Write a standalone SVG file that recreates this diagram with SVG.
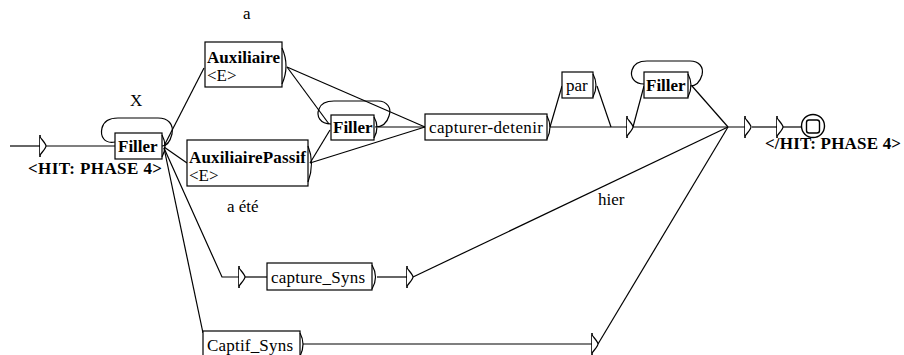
<svg xmlns="http://www.w3.org/2000/svg" xmlns:xlink="http://www.w3.org/1999/xlink" width="904" height="355" viewBox="0 0 904 355">
<style>
.bg{fill:#fff}
.box{fill:#fff;stroke:#000;stroke-width:1.2}
.ln{fill:none;stroke:#000;stroke-width:1.2}
.t{font-family:'Liberation Serif','DejaVu Serif',serif;font-size:17px;fill:#000}
.b{font-weight:bold}
</style>
<defs>
<g id="arr">
<path d="M0,-11 L0,11" stroke="#000" stroke-width="1.6" fill="none"/>
<path d="M0,-9 C3,-5 6,-2 6,0 C6,2 3,5 0,9" stroke="#000" stroke-width="1.2" fill="#fff"/>
</g>
</defs>
<rect class="bg" x="0" y="0" width="904" height="355"/>
<g id="connectors">
<path class="ln" d="M10,146 L40,146"/>
<path class="ln" d="M46,146 L115,146"/>
<path class="ln" d="M164,146 L204,68"/>
<path class="ln" d="M164,147 L187,163"/>
<path class="ln" d="M164,148 L222,277 L239,277"/>
<path class="ln" d="M164,148 L203,333"/>
<path class="ln" d="M287,67 L329,124"/>
<path class="ln" d="M287,67 L425,127"/>
<path class="ln" d="M310,163 L330,130"/>
<path class="ln" d="M310,163 L425,127"/>
<path class="ln" d="M378,127 L425,127"/>
<path class="ln" d="M550,127 L562,86"/>
<path class="ln" d="M550,127 L627,127"/>
<path class="ln" d="M597,86 L611,127"/>
<path class="ln" d="M633,127 L644,86"/>
<path class="ln" d="M633,127 L745,127"/>
<path class="ln" d="M692,86 L728,127"/>
<path class="ln" d="M752,127 L777,127"/>
<path class="ln" d="M783,127 L801,127"/>
<path class="ln" d="M245,277 L267,277"/>
<path class="ln" d="M377,277 L407,277"/>
<path class="ln" d="M413,277 L728,127"/>
<path class="ln" d="M303,344 L592,344"/>
<path class="ln" d="M598,344 L728,127"/>
</g>
<g id="start">
<use xlink:href="#arr" href="#arr" x="40" y="146"/>
<text class="t b" x="28" y="174" textLength="134">&lt;HIT: PHASE 4&gt;</text>
</g>
<g id="filler1">
<path class="ln" d="M115,142 C104,144 100,136 102,128 C104,120 110,118 118,118 L158,118 C168,118 174,124 172,134 C170,142 166,146 162,146"/>
<rect class="box" x="115" y="133" width="47" height="26"/>
<path class="ln" d="M162,135 Q168,146 162,157"/>
<text class="t b" x="118" y="152">Filler</text>
<text class="t" x="130" y="106">X</text>
</g>
<g id="auxiliaire">
<rect class="box" x="205" y="42" width="77" height="45"/>
<path class="ln" d="M282,48 Q290,66 282,84"/>
<text class="t b" x="207" y="63" textLength="73">Auxiliaire</text>
<text class="t" x="207" y="81">&lt;E&gt;</text>
<text class="t" x="243" y="19">a</text>
</g>
<g id="auxpassif">
<rect class="box" x="187" y="140" width="121" height="46"/>
<path class="ln" d="M308,146 Q315,163 308,182"/>
<text class="t b" x="189" y="163" textLength="117">AuxiliairePassif</text>
<text class="t" x="189" y="181">&lt;E&gt;</text>
<text class="t" x="227" y="212">a été</text>
</g>
<g id="filler2">
<path class="ln" d="M331,124 C320,124 316,116 319,109 C321,103 327,101 334,101 L378,101 C387,101 392,108 389,116 C387,123 382,127 375,127"/>
<rect class="box" x="331" y="115" width="43" height="25"/>
<path class="ln" d="M374,117 Q380,127 374,138"/>
<text class="t b" x="333" y="133">Filler</text>
</g>
<g id="capturer">
<rect class="box" x="425" y="114" width="122" height="26"/>
<path class="ln" d="M547,116 Q553,127 547,139"/>
<text class="t" x="429" y="133" textLength="114">capturer-detenir</text>
</g>
<g id="par">
<rect class="box" x="562" y="72" width="31" height="26"/>
<path class="ln" d="M593,74 Q599,85 593,97"/>
<text class="t" x="566" y="91">par</text>
</g>
<g id="mid-arrow">
<use xlink:href="#arr" href="#arr" x="627" y="127"/>
</g>
<g id="filler3">
<path class="ln" d="M644,84 C634,84 630,77 632,70 C634,63 640,61 647,61 L690,61 C699,61 704,67 702,75 C700,82 696,86 690,86"/>
<rect class="box" x="644" y="72" width="44" height="26"/>
<path class="ln" d="M688,74 Q694,85 688,97"/>
<text class="t b" x="646" y="91">Filler</text>
</g>
<g id="end">
<use xlink:href="#arr" href="#arr" x="745" y="127"/>
<use xlink:href="#arr" href="#arr" x="777" y="127"/>
<circle cx="813" cy="126" r="11.5" fill="#fff" stroke="#000" stroke-width="1.4"/>
<rect x="806.5" y="120" width="13" height="13" rx="2.5" fill="none" stroke="#000" stroke-width="1.4"/>
<text class="t b" x="765" y="149" textLength="136">&lt;/HIT: PHASE 4&gt;</text>
</g>
<g id="capture_syns">
<use xlink:href="#arr" href="#arr" x="239" y="277"/>
<rect class="box" x="267" y="263" width="105" height="27"/>
<path class="ln" d="M372,265 Q379,277 372,289"/>
<text class="t" x="271" y="283" textLength="94">capture_Syns</text>
<use xlink:href="#arr" href="#arr" x="407" y="277"/>
<text class="t" x="598" y="205">hier</text>
</g>
<g id="captif_syns">
<rect class="box" x="203" y="331" width="97" height="27"/>
<path class="ln" d="M300,333 Q306,344 300,356"/>
<text class="t" x="207" y="351" textLength="86">Captif_Syns</text>
<use xlink:href="#arr" href="#arr" x="592" y="344"/>
</g>
</svg>
